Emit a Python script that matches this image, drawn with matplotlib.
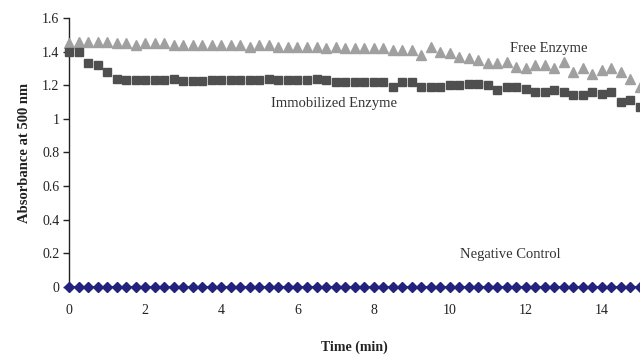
import numpy as np
import matplotlib.pyplot as plt

# time in minutes, one reading every 15 s
time_min = np.arange(0, 15.01, 0.25)

free_enzyme = [
    1.45, 1.46, 1.46, 1.46, 1.46, 1.45, 1.45, 1.44, 1.45, 1.45,
    1.45, 1.44, 1.44, 1.44, 1.44, 1.44, 1.44, 1.44, 1.44, 1.43,
    1.44, 1.44, 1.43, 1.43, 1.43, 1.43, 1.43, 1.42, 1.43, 1.42,
    1.42, 1.42, 1.42, 1.42, 1.41, 1.41, 1.41, 1.38, 1.43, 1.40,
    1.39, 1.37, 1.36, 1.35, 1.33, 1.33, 1.34, 1.31, 1.30, 1.32,
    1.32, 1.30, 1.34, 1.28, 1.30, 1.27, 1.29, 1.30, 1.28, 1.24,
    1.19,
]

immobilized_enzyme = [
    1.40, 1.40, 1.33, 1.32, 1.28, 1.24, 1.23, 1.23, 1.23, 1.23,
    1.23, 1.24, 1.225, 1.225, 1.225, 1.23, 1.23, 1.23, 1.23, 1.23,
    1.23, 1.24, 1.23, 1.23, 1.23, 1.23, 1.24, 1.23, 1.22, 1.22,
    1.22, 1.22, 1.22, 1.22, 1.19, 1.22, 1.22, 1.19, 1.19, 1.19,
    1.20, 1.20, 1.21, 1.21, 1.20, 1.17, 1.19, 1.19, 1.18, 1.16,
    1.16, 1.17, 1.16, 1.14, 1.14, 1.16, 1.15, 1.16, 1.10, 1.11,
    1.07,
]

negative_control = [
    0, 0, 0, 0, 0, 0, 0, 0, 0, 0,
    0, 0, 0, 0, 0, 0, 0, 0, 0, 0,
    0, 0, 0, 0, 0, 0, 0, 0, 0, 0,
    0, 0, 0, 0, 0, 0, 0, 0, 0, 0,
    0, 0, 0, 0, 0, 0, 0, 0, 0, 0,
    0, 0, 0, 0, 0, 0, 0, 0, 0, 0,
    0,
]

y_ticks = [0, 0.2, 0.4, 0.6, 0.8, 1, 1.2, 1.4, 1.6]
y_labels = ['0', '0.2', '0.4', '0.6', '0.8', '1', '1.2', '1.4', '1.6']
x_ticks = [0, 2, 4, 6, 8, 10, 12, 14]

plt.rcParams['font.family'] = ['Liberation Serif', 'DejaVu Serif']

fig = plt.figure(figsize=(6.4, 3.55), dpi=100)
ax = fig.add_axes([0.108, 0.192, 0.892, 0.757])

ax.plot(time_min, free_enzyme, linestyle='none', marker='^', markersize=7.2,
        color='#a0a0a0', clip_on=False, zorder=3)
ax.plot(time_min, immobilized_enzyme, linestyle='none', marker='s', markersize=6.2,
        color='#4f4f4f', clip_on=False, zorder=3)
ax.plot(time_min, negative_control, linestyle='-', linewidth=1.4, marker='D',
        markersize=4.8, color='#23237d', clip_on=False, zorder=4)

ax.set_xlim(0, 15)
ax.set_ylim(0, 1.6)
ax.set_yticks(y_ticks)
ax.set_yticklabels(y_labels)
ax.set_xticks(x_ticks)

for side in ['top', 'right', 'bottom']:
    ax.spines[side].set_visible(False)
ax.spines['left'].set_linewidth(1.0)
ax.spines['left'].set_color('#222222')

ax.tick_params(axis='y', direction='out', length=4, width=1.0, labelsize=10,
               colors='#222222', pad=3)
ax.tick_params(axis='x', length=0, labelsize=10, colors='#222222', pad=12)

ax.set_xlabel('Time (min)', fontsize=10, fontweight='bold', color='#222222', labelpad=17)
ax.set_ylabel('Absorbance at 500 nm', fontsize=10.5, fontweight='bold', color='#222222',
              labelpad=8)

ax.text(12.6, 1.42, 'Free Enzyme', fontsize=10.5, color='#333333', ha='center',
        va='center')
ax.text(6.95, 1.09, 'Immobilized Enzyme', fontsize=10.5, color='#333333', ha='center',
        va='center')
ax.text(11.6, 0.19, 'Negative Control', fontsize=10.5, color='#333333', ha='center',
        va='center')

plt.savefig('out.png', dpi=100)
